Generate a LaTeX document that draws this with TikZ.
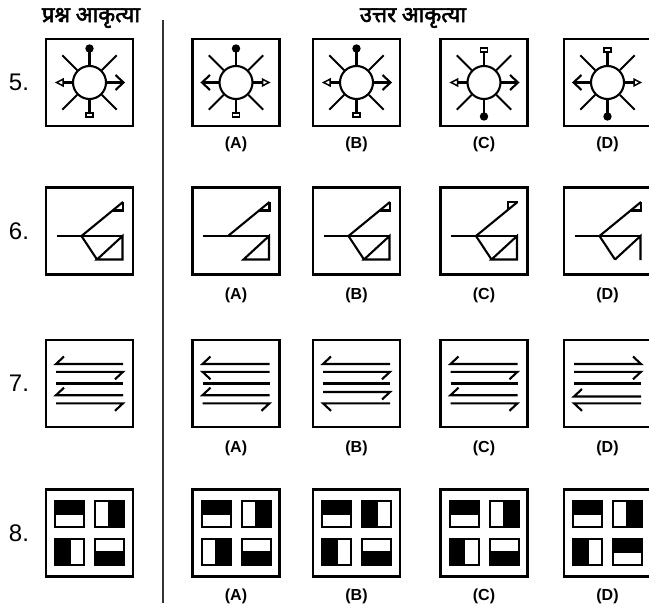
\documentclass[tikz,border=0pt]{standalone}
\usepackage{fontspec}
\setmainfont{Liberation Sans}
\newfontfamily\hindi[Script=Devanagari,AutoFakeBold=2.5]{Noto Sans}

% ends of the sun figure (drawn at the top or at the left)
\newcommand{\tipDot}{\draw (0,-16.5) -- (0,-31); \fill (0,-34) circle (4.2);}
\newcommand{\tipBox}{\draw (0,-16.5) -- (0,-30.5); \draw[line width=1.5pt] (-3.6,-30.5) rectangle (3.6,-34.6);}
\newcommand{\tipTri}{\draw (-16.5,0) -- (-26.5,0); \draw[line width=1.5pt] (-26.5,-3.3) -- (-33,0) -- (-26.5,3.3) -- cycle;}
\newcommand{\tipChev}{\draw (-16.5,0) -- (-34,0); \draw (-26,-7.5) -- (-34,0) -- (-26,7.5);}
\newcommand{\sunBody}{%
  \draw (0,0) circle (16.5);
  \foreach \a in {45,135,225,315}
    \draw (\a:17.5) -- (\a:38.5);}
% small tile, #3 = white half (0 top, 1 right, 2 bottom, 3 left)
\newcommand{\tile}[3]{%
  \fill (#1,#2) rectangle ++(31,28);
  \ifcase#3
    \fill[white] ({#1+2},{#2+2}) rectangle ({#1+29},{#2+13});
  \or
    \fill[white] ({#1+16.6},{#2+2}) rectangle ({#1+29},{#2+26});
  \or
    \fill[white] ({#1+2},{#2+15}) rectangle ({#1+29},{#2+26});
  \or
    \fill[white] ({#1+2},{#2+2}) rectangle ({#1+14.4},{#2+26});
  \fi}

\begin{document}
\begin{tikzpicture}[x=1pt,y=-1pt,line width=2.1pt,
  frame/.style={line width=2.4pt},
  optlabel/.style={font=\bfseries\fontsize{16}{19}\selectfont},
  qnum/.style={font=\fontsize{24}{28}\selectfont},
  head/.style={font=\hindi\bfseries\fontsize{22}{26}\selectfont}]
\useasboundingbox (0,0) rectangle (649,605);

\node[head] (qhead) at (91,18) {प्रश्न आकृत्या};
\node[head] (ahead) at (413,18) {उत्तर आकृत्या};
\draw[line width=1.2pt,black!80] (163,20) -- (163,603);

\foreach \n/\cy in {5/82.5,6/231,7/383.5,8/533}
  \node[qnum] (num\n) at (19,\cy) {\n.};
\foreach \r/\ly in {5/144,6/295.5,7/448,8/596}
  \foreach \cx/\l in {236/A,356.5/B,484/C,607.5/D}
    \node[optlabel] (opt\r\l) at (\cx,\ly) {(\l)};

% frames
\foreach \cy in {82.5,231,383.5,533}
  \foreach \cx in {89.5,236,356.5,484,607.5}
    \draw[frame] (\cx-43.5,\cy-43.5) rectangle ++(87,87);

% row 5
\foreach \cx/\up/\dn/\lt/\rt in {89.5/\tipDot/\tipBox/\tipTri/\tipChev,
  236/\tipDot/\tipBox/\tipChev/\tipTri, 356.5/\tipDot/\tipBox/\tipTri/\tipChev,
  484/\tipBox/\tipDot/\tipTri/\tipChev, 607.5/\tipBox/\tipDot/\tipChev/\tipTri}
{
 \begin{scope}[shift={(\cx,82.5)}]
  \sunBody \up \lt
  \begin{scope}[rotate=180] \dn \end{scope}
  \begin{scope}[xscale=-1] \rt \end{scope}
 \end{scope}
}

% row 6
\foreach \cx/\fl/\vs/\bs in {89.5/1/1/1, 236/1/0/1, 356.5/1/1/1, 484/2/1/1, 607.5/1/1/0}
{
 \begin{scope}[shift={(\cx,231)}]
  \draw (-33,5) -- (33.5,5);
  \draw (-8,5) -- (33.5,-29);
  \ifnum\fl=1 \draw (33.5,-29) -- (33.5,-20.5) -- (23.3,-20.5);
  \else \draw (33.5,-29) -- (24,-29) -- (24,-21.2); \fi
  \ifnum\vs=1 \draw (-8,5) -- (7.5,28.5); \fi
  \ifnum\bs=1 \draw (7.5,28.5) -- (33,5) -- (33,28.5) -- cycle;
  \else \draw (7.5,28.5) -- (33,5) -- (33,29); \fi
 \end{scope}
}

% row 7
\foreach \cx/\arr in {89.5/{-19.5/-1/-1,-11.7/1/1,11.7/-1/-1,19.8/1/1},
  236/{-19.5/-1/-1,-11.7/-1/1,11.7/-1/-1,19.8/1/1},
  356.5/{-19.5/-1/-1,-11.7/1/1,8.5/1/1,19.8/-1/1},
  484/{-19.5/-1/-1,-11.7/1/1,11.7/-1/-1,19.8/1/1},
  607.5/{-19.5/1/-1,-11.7/1/1,13/-1/-1,19.8/-1/1}}
{
 \begin{scope}[shift={(\cx,383.5)}]
  \draw (-33.5,0) -- (33.5,0);
  \foreach \y/\s/\b in \arr
    \draw ({-33.5*\s},\y) -- ({33.5*\s},\y) -- ({25.5*\s},{\y+7.5*\b});
 \end{scope}
}

% row 8
\foreach \cx/\ta/\tb/\tc/\td in {89.5/2/3/1/0, 236/2/3/3/0, 356.5/2/1/1/0, 484/2/3/1/0, 607.5/2/3/1/2}
{
 \begin{scope}[shift={(\cx,533)}]
  \tile{-35.5}{-33}{\ta} \tile{4.5}{-33}{\tb}
  \tile{-35.5}{4.5}{\tc} \tile{4.5}{4.5}{\td}
 \end{scope}
}
\end{tikzpicture}
\end{document}
